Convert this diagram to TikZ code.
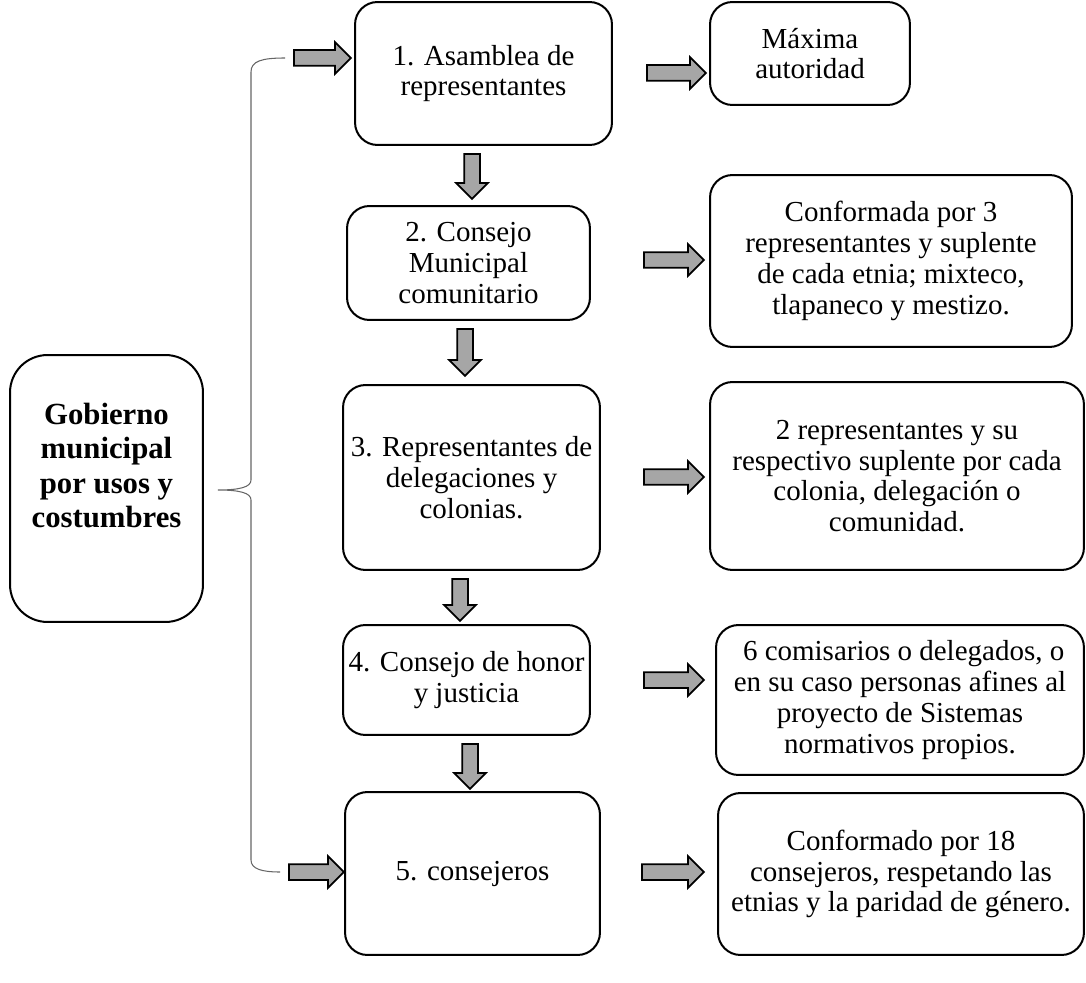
\documentclass[tikz,border=0pt]{standalone}
\usepackage{fontspec}
\setmainfont{Liberation Serif}
\usetikzlibrary{calc,shapes.arrows}

\tikzset{
	caja/.style={draw, line width=0.04cm, rounded corners=0.45cm, align=center, inner sep=0pt, font=\fontsize{16.5}{17.5}\selectfont},
	flecha/.style={single arrow, draw, line width=0.035cm, fill=black!35, inner sep=0.14cm, single arrow head extend=0.16cm},
	llave/.style={draw=black!60, line width=0.6pt},
}

\begin{document}
\begin{tikzpicture}[x=0.02cm, y=-0.02cm]
			%%%%% START %%%%%
			\useasboundingbox (0, 0) rectangle (1086, 983);
			
			\node[caja, rounded corners=0.75cm, minimum width=3.86cm, minimum height=5.34cm] (gob) at (106.5, 488.5) {};
			\node[align=center, font=\fontsize{17.5}{19.5}\selectfont\bfseries] (gobtxt) at ($(gob.center)+(0, -23)$) {Gobierno\\municipal\\por usos y\\costumbres};
			
			\node[caja, minimum width=5.14cm, minimum height=2.86cm] (b1) at (483.5, 73.5) {1. Asamblea de\\representantes};
			\node[caja, minimum width=4.86cm, minimum height=2.28cm] (b2) at (468.5, 263) {2. Consejo\\Municipal\\comunitario};
			\node[caja, minimum width=5.14cm, minimum height=3.7cm] (b3) at (471.5, 477.5) {3. Representantes de\\delegaciones y\\colonias.};
			\node[caja, minimum width=4.94cm, minimum height=2.2cm] (b4) at (466.5, 680) {4. Consejo de honor\\y justicia};
			\node[caja, minimum width=5.1cm, minimum height=3.26cm] (b5) at (472.5, 873.5) {5. consejeros};
			
			\node[caja, minimum width=4cm, minimum height=2.06cm] (r1) at (810, 53.5) {M\'axima\\autoridad};
			\node[caja, minimum width=7.24cm, minimum height=3.44cm] (r2) at (891, 261) {Conformada por 3\\representantes y suplente\\de cada etnia; mixteco,\\tlapaneco y mestizo.};
			\node[caja, minimum width=7.48cm, minimum height=3.76cm] (r3) at (897, 476) {2 representantes y su\\respectivo suplente por cada\\colonia, delegaci\'on o\\comunidad.};
			\node[caja, minimum width=7.36cm, minimum height=3cm] (r4) at (900, 700) {\ 6 comisarios o delegados, o\\en su caso personas afines al\\proyecto de Sistemas\\normativos propios.};
			\node[caja, minimum width=7.32cm, minimum height=3.24cm] (r5) at (901, 874) {Conformado por 18\\consejeros, respetando las\\etnias y la paridad de g\'enero.};
			
			% flechas de bloque
			\node[flecha, minimum height=1.14cm] (e0) at (318.5, 58) {};
			\node[flecha, minimum height=1.1cm] (e6) at (312.5, 872) {};
			
			\node[flecha, minimum height=1.18cm] (h1) at (672.5, 73) {};
			\node[flecha, minimum height=1.2cm] (h2) at (670, 260) {};
			\node[flecha, minimum height=1.2cm] (h3) at (670, 477) {};
			\node[flecha, minimum height=1.2cm] (h4) at (670, 680) {};
			\node[flecha, minimum height=1.24cm] (h5) at (669, 872) {};
			
			\node[flecha, shape border rotate=270, minimum height=0.9cm] (v1) at (472, 172.5) {};
			\node[flecha, shape border rotate=270, minimum height=0.94cm] (v2) at (465, 348.5) {};
			\node[flecha, shape border rotate=270, minimum height=0.84cm] (v3) at (460, 596) {};
			\node[flecha, shape border rotate=270, minimum height=0.9cm] (v4) at (470, 762.5) {};
			
			% llave
			\coordinate (ll1) at ($(e0.west)+(-8, 0)$);
			\coordinate (ll2) at ($(e6.west)+(-8, 0)$);
			\coordinate (pico) at (218, 490);
			\draw[llave] (ll1) .. controls (262, 58) and (251, 61) .. (251, 72) -- (251, 480)
				.. controls (251, 487) and (240, 490) .. (pico)
				.. controls (240, 490) and (251, 493) .. (251, 500) -- (251, 860)
				.. controls (251, 869) and (262, 872) .. (ll2);
			
			%%%%% END %%%%%
\end{tikzpicture}
\end{document}
